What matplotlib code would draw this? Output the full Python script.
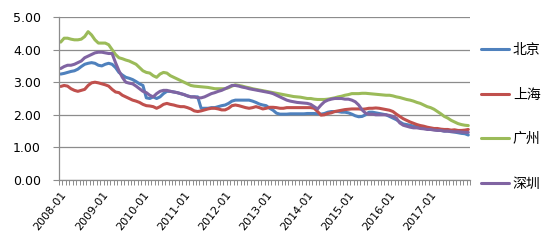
import numpy as np
import pandas as pd
import matplotlib
matplotlib.use('Agg')
import matplotlib.pyplot as plt
from matplotlib.ticker import FixedLocator

plt.rcParams['font.family'] = ['DejaVu Sans', 'Noto Sans CJK SC']

# monthly categories 2008-01 .. 2017-12
months = list(pd.date_range('2008-01-01', periods=120, freq='MS').strftime('%Y-%m'))

# 北京
beijing = [3.25, 3.27, 3.30, 3.33, 3.35, 3.40, 3.48, 3.55, 3.58, 3.60, 3.58, 3.52,
           3.50, 3.55, 3.58, 3.55, 3.45, 3.30, 3.22, 3.15, 3.12, 3.08, 3.02, 2.95,
           2.90, 2.52, 2.50, 2.55, 2.50, 2.55, 2.65, 2.72, 2.72, 2.70, 2.68, 2.65,
           2.62, 2.58, 2.55, 2.55, 2.55, 2.20, 2.20, 2.20, 2.22, 2.22, 2.25, 2.28,
           2.30, 2.35, 2.42, 2.45, 2.45, 2.45, 2.45, 2.45, 2.42, 2.38, 2.33, 2.30,
           2.28, 2.20, 2.14, 2.05, 2.02, 2.02, 2.02, 2.03, 2.03, 2.03, 2.03, 2.03,
           2.04, 2.04, 2.04, 2.03, 2.02, 2.04, 2.08, 2.10, 2.10, 2.10, 2.08, 2.08,
           2.06, 2.02, 1.97, 1.94, 1.95, 2.00, 2.08, 2.08, 2.06, 2.04, 2.02, 2.00,
           1.95, 1.90, 1.85, 1.78, 1.72, 1.70, 1.68, 1.65, 1.64, 1.62, 1.60, 1.58,
           1.56, 1.55, 1.53, 1.52, 1.50, 1.50, 1.48, 1.47, 1.45, 1.43, 1.42, 1.38]

# 上海
shanghai = [2.87, 2.90, 2.88, 2.80, 2.75, 2.72, 2.75, 2.78, 2.90, 2.98, 3.00, 2.98,
            2.95, 2.92, 2.88, 2.78, 2.70, 2.68, 2.60, 2.55, 2.50, 2.45, 2.42, 2.38,
            2.32, 2.28, 2.27, 2.25, 2.20, 2.25, 2.32, 2.35, 2.32, 2.30, 2.27, 2.25,
            2.25, 2.22, 2.18, 2.12, 2.10, 2.12, 2.15, 2.18, 2.20, 2.20, 2.18, 2.15,
            2.15, 2.20, 2.28, 2.30, 2.28, 2.25, 2.22, 2.20, 2.22, 2.25, 2.22, 2.18,
            2.20, 2.23, 2.23, 2.22, 2.20, 2.20, 2.22, 2.22, 2.22, 2.22, 2.22, 2.22,
            2.22, 2.22, 2.20, 2.10, 1.99, 2.00, 2.04, 2.06, 2.10, 2.12, 2.14, 2.16,
            2.17, 2.18, 2.18, 2.18, 2.17, 2.18, 2.20, 2.20, 2.21, 2.20, 2.18, 2.16,
            2.14, 2.10, 2.02, 1.95, 1.88, 1.83, 1.78, 1.74, 1.70, 1.67, 1.65, 1.62,
            1.60, 1.58, 1.58, 1.56, 1.55, 1.55, 1.53, 1.54, 1.52, 1.52, 1.53, 1.55]

# 广州
guangzhou = [4.23, 4.35, 4.35, 4.32, 4.30, 4.30, 4.32, 4.40, 4.55, 4.45, 4.30, 4.20,
             4.20, 4.20, 4.15, 4.00, 3.85, 3.75, 3.72, 3.68, 3.65, 3.60, 3.55, 3.45,
             3.35, 3.30, 3.28, 3.20, 3.15, 3.25, 3.30, 3.28, 3.20, 3.15, 3.10, 3.05,
             3.00, 2.95, 2.90, 2.88, 2.87, 2.86, 2.85, 2.84, 2.82, 2.80, 2.80, 2.80,
             2.80, 2.83, 2.88, 2.92, 2.90, 2.88, 2.85, 2.83, 2.80, 2.78, 2.76, 2.74,
             2.72, 2.70, 2.68, 2.66, 2.64, 2.62, 2.60, 2.58, 2.56, 2.55, 2.54, 2.52,
             2.50, 2.50, 2.48, 2.47, 2.47, 2.47, 2.48, 2.50, 2.52, 2.55, 2.57, 2.60,
             2.62, 2.65, 2.65, 2.65, 2.66, 2.66, 2.65, 2.64, 2.63, 2.62, 2.61, 2.60,
             2.60, 2.58, 2.55, 2.53, 2.50, 2.47, 2.45, 2.42, 2.38, 2.35, 2.30, 2.25,
             2.22, 2.17, 2.10, 2.03, 1.95, 1.90, 1.83, 1.78, 1.73, 1.70, 1.68, 1.67]

# 深圳
shenzhen = [3.42, 3.48, 3.52, 3.52, 3.55, 3.60, 3.65, 3.75, 3.80, 3.85, 3.90, 3.92,
            3.92, 3.90, 3.88, 3.88, 3.60, 3.35, 3.15, 3.00, 2.97, 2.95, 2.88, 2.80,
            2.72, 2.68, 2.60, 2.55, 2.65, 2.72, 2.75, 2.75, 2.72, 2.70, 2.68, 2.65,
            2.62, 2.58, 2.55, 2.55, 2.52, 2.52, 2.55, 2.60, 2.65, 2.68, 2.72, 2.75,
            2.80, 2.85, 2.90, 2.90, 2.88, 2.85, 2.83, 2.80, 2.78, 2.76, 2.74, 2.72,
            2.70, 2.68, 2.65, 2.60, 2.55, 2.50, 2.45, 2.42, 2.40, 2.38, 2.37, 2.36,
            2.35, 2.32, 2.25, 2.18, 2.30, 2.40, 2.45, 2.48, 2.50, 2.50, 2.50, 2.48,
            2.48, 2.45, 2.40, 2.30, 2.15, 2.05, 2.02, 2.02, 2.00, 2.00, 2.00, 2.00,
            1.98, 1.95, 1.90, 1.75, 1.68, 1.65, 1.62, 1.60, 1.60, 1.58, 1.57, 1.55,
            1.55, 1.53, 1.52, 1.52, 1.50, 1.50, 1.49, 1.48, 1.48, 1.47, 1.46, 1.46]

names = ['北京', '上海', '广州', '深圳']
colors = ['#4F81BD', '#C0504D', '#9BBB59', '#8064A2']

fig = plt.figure(figsize=(5.44, 2.43), dpi=100)
ax = fig.add_axes([59/544, 1 - 180/243, 411/544, 163/243])

x = np.arange(len(months))
for vals, name, c in zip([beijing, shanghai, guangzhou, shenzhen], names, colors):
    ax.plot(x, vals, color=c, lw=2.2, label=name, solid_capstyle='round')

ax.set_xlim(-0.5, len(months) - 0.5)
ax.set_ylim(0, 5)
ax.set_yticks(np.arange(0, 5.01, 1))
ax.set_yticklabels(['%.2f' % v for v in np.arange(0, 5.01, 1)])
ax.grid(axis='y', color='#8c8c8c', lw=0.9)
ax.set_axisbelow(True)

# year labels on the category centres, month boundary tick marks
year_idx = list(range(0, 120, 12))
ax.set_xticks(year_idx)
ax.set_xticklabels([months[i] for i in year_idx], rotation=52, ha='right',
                   va='top', rotation_mode='anchor', fontsize=8)
ax.xaxis.set_minor_locator(FixedLocator(np.arange(-0.5, len(months), 1)))
ax.tick_params(axis='x', which='major', length=0, pad=7)
ax.tick_params(axis='x', which='minor', length=3.5, color='#8c8c8c', width=0.7)
ax.tick_params(axis='y', length=4, color='#8c8c8c', labelsize=9, pad=9)

for s in ['top', 'right']:
    ax.spines[s].set_visible(False)
for s in ['left', 'bottom']:
    ax.spines[s].set_color('#8c8c8c')
    ax.spines[s].set_linewidth(0.9)

fig.legend(loc='center left', bbox_to_anchor=(474/544, 1 - 117/243),
           frameon=False, prop={'family': 'Noto Sans CJK SC', 'size': 10},
           labelspacing=2.2, handlelength=2.0, handletextpad=0.3, borderpad=0)

fig.savefig('out.png', dpi=100)
